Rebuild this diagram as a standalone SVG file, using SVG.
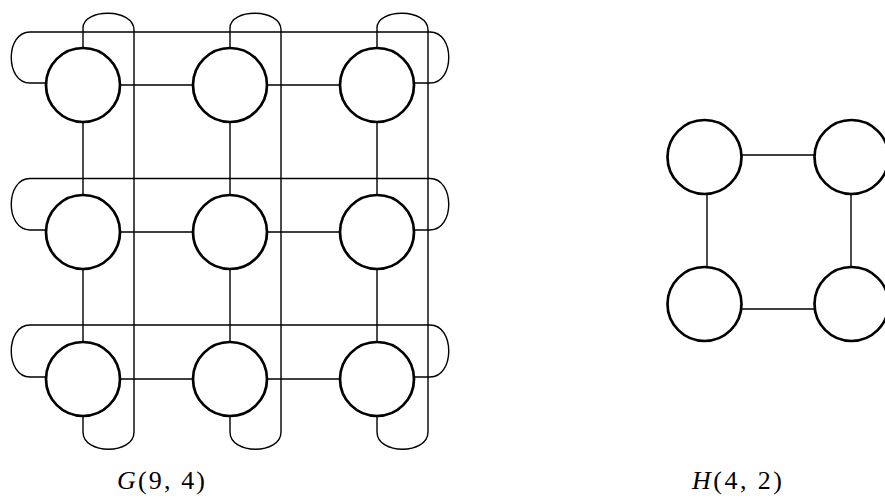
<svg xmlns="http://www.w3.org/2000/svg" width="885" height="500" viewBox="0 0 885 500">
<style>
.edge{fill:none;stroke:#000;stroke-width:1.4}
.node{fill:#fff;stroke:#000;stroke-width:2.7}
.lbl{font-family:"Liberation Serif","DejaVu Serif",serif;font-size:26px;fill:#000}
</style>
<rect width="885" height="500" fill="#fff"/>
<g id="connectors">
  <!-- G row edges -->
  <path class="edge" d="M120 85H193M267 85H340M120 232H193M267 232H340M120 379H193M267 379H340"/>
  <!-- G column edges -->
  <path class="edge" d="M83 122V195M83 269V342M230 122V195M230 269V342M377 122V195M377 269V342"/>
  <!-- G row wraps -->
  <path class="edge" d="M46 83H30C5 83 5 32 30 32H430C455 32 455 83 430 83H414"/>
  <path class="edge" d="M46 230H30C5 230 5 178.5 30 178.5H430C455 178.5 455 230 430 230H414"/>
  <path class="edge" d="M46 377H30C5 377 5 325 30 325H430C455 325 455 377 430 377H414"/>
  <!-- G column wraps -->
  <path class="edge" d="M83 48V28C83 8 134 8 134 30V432C134 455 83 455 83 432V416"/>
  <path class="edge" d="M230 48V28C230 8 281 8 281 30V432C281 455 230 455 230 432V416"/>
  <path class="edge" d="M377 48V28C377 8 428 8 428 30V432C428 455 377 455 377 432V416"/>
  <!-- H edges -->
  <path class="edge" d="M741 155H815M741 309H815M707 194V267M851 194V267"/>
</g>
<g id="G">
  <g id="g11"><circle class="node" cx="83" cy="85" r="37"/></g>
  <g id="g12"><circle class="node" cx="230" cy="85" r="37"/></g>
  <g id="g13"><circle class="node" cx="377" cy="85" r="37"/></g>
  <g id="g21"><circle class="node" cx="83" cy="232" r="37"/></g>
  <g id="g22"><circle class="node" cx="230" cy="232" r="37"/></g>
  <g id="g23"><circle class="node" cx="377" cy="232" r="37"/></g>
  <g id="g31"><circle class="node" cx="83" cy="379" r="37"/></g>
  <g id="g32"><circle class="node" cx="230" cy="379" r="37"/></g>
  <g id="g33"><circle class="node" cx="377" cy="379" r="37"/></g>
</g>
<g id="H">
  <g id="h11"><circle class="node" cx="704.5" cy="157" r="37"/></g>
  <g id="h12"><circle class="node" cx="851.5" cy="157" r="37"/></g>
  <g id="h21"><circle class="node" cx="704.5" cy="304" r="37"/></g>
  <g id="h22"><circle class="node" cx="851.5" cy="304" r="37"/></g>
</g>
<g id="labels">
  <text class="lbl" x="117" y="489" textLength="88" lengthAdjust="spacing"><tspan font-style="italic">G</tspan>(9, 4)</text>
  <text class="lbl" x="692" y="489" textLength="90" lengthAdjust="spacing"><tspan font-style="italic">H</tspan>(4, 2)</text>
</g>
</svg>
